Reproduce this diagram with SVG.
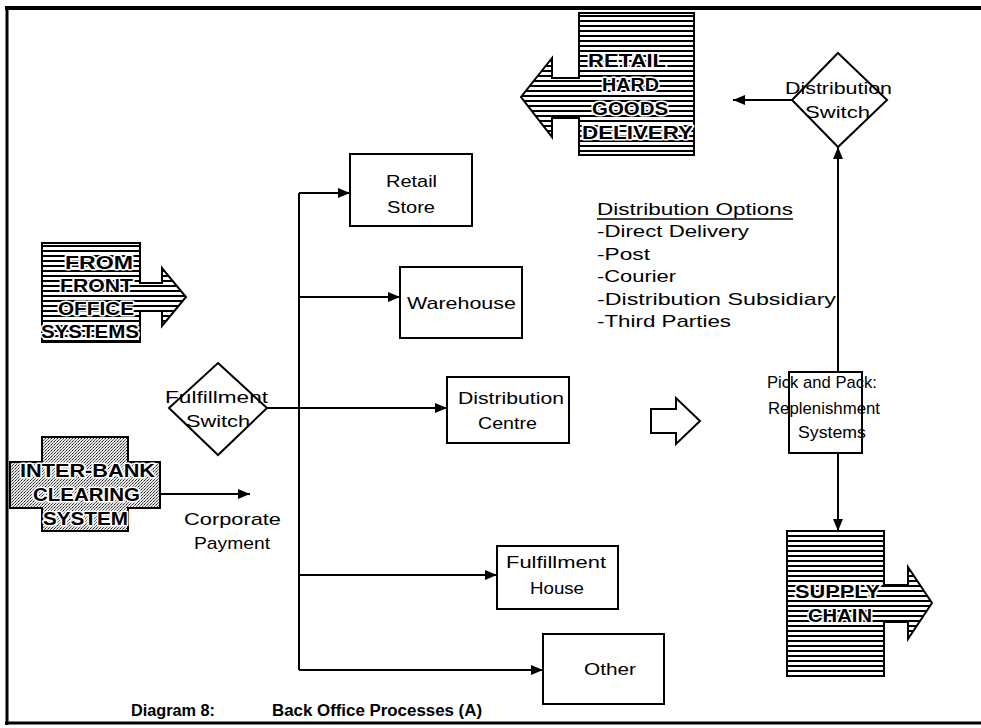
<svg xmlns="http://www.w3.org/2000/svg" width="981" height="728" viewBox="0 0 981 728">
<defs>
<pattern id="stripes" width="6" height="5" patternUnits="userSpaceOnUse">
<rect width="6" height="5" fill="#fff"/>
<rect y="0" width="6" height="2" fill="#000"/>
</pattern>
<pattern id="dots" width="3" height="3" patternUnits="userSpaceOnUse">
<rect width="3" height="3" fill="#e6e6e6"/>
<rect x="0" y="0" width="1" height="1" fill="#222"/>
<rect x="2" y="1" width="1" height="1" fill="#777"/>
<rect x="1" y="2" width="1" height="1" fill="#555"/>
</pattern>
<marker id="ah" markerWidth="13" markerHeight="11" refX="12" refY="5" orient="auto" markerUnits="userSpaceOnUse">
<path d="M0,0 L12,5 L0,10 Z" fill="#000"/>
</marker>
</defs>
<style>
.t{font-family:"Liberation Sans",Arial,sans-serif;font-size:17px;fill:#000}
.b{font-family:"Liberation Sans",Arial,sans-serif;font-weight:bold;font-size:18px;fill:#000;stroke:#fff;stroke-width:3;paint-order:stroke;stroke-linejoin:round}
.ti{font-family:"Liberation Sans",Arial,sans-serif;font-weight:bold;font-size:16px;fill:#000}
.box{fill:#fff;stroke:#000;stroke-width:2}
.sh{stroke:#000;stroke-width:2}
.c{fill:none;stroke:#000;stroke-width:2}
</style>
<rect width="981" height="728" fill="#fff"/>
<g id="frame" fill="none" stroke="#000">
<line x1="5" y1="8" x2="981" y2="8" stroke-width="4"/>
<line x1="7" y1="6" x2="7" y2="725" stroke-width="3"/>
<line x1="5" y1="723" x2="981" y2="723" stroke-width="3"/>
</g>
<g id="connectors">
<line class="c" x1="299" y1="193" x2="299" y2="670"/>
<line class="c" x1="299" y1="193" x2="350" y2="193" marker-end="url(#ah)"/>
<line class="c" x1="299" y1="297" x2="400" y2="297" marker-end="url(#ah)"/>
<line class="c" x1="267" y1="408" x2="447" y2="408" marker-end="url(#ah)"/>
<line class="c" x1="299" y1="575" x2="497" y2="575" marker-end="url(#ah)"/>
<line class="c" x1="299" y1="670" x2="543" y2="670" marker-end="url(#ah)"/>
<line class="c" x1="160" y1="494" x2="250" y2="494" marker-end="url(#ah)"/>
<line class="c" x1="792" y1="100" x2="733" y2="100" marker-end="url(#ah)"/>
<line class="c" x1="838" y1="372" x2="838" y2="147" marker-end="url(#ah)"/>
<line class="c" x1="838" y1="453" x2="838" y2="531" marker-end="url(#ah)"/>
</g>
<g id="retail-hard-goods">
<path class="sh" fill="url(#stripes)" d="M579,13 H694 V155 H579 V118 H552 V137 L521,97 L552,58 V78 H579 Z"/>
<text class="b" x="588" y="67" textLength="78" lengthAdjust="spacingAndGlyphs">RETAIL</text>
<text class="b" x="602" y="91" textLength="57" lengthAdjust="spacingAndGlyphs">HARD</text>
<text class="b" x="592" y="115" textLength="76" lengthAdjust="spacingAndGlyphs">GOODS</text>
<text class="b" x="582" y="139" textLength="111" lengthAdjust="spacingAndGlyphs">DELIVERY</text>
</g>
<g id="distribution-switch">
<path class="box" d="M838,53 L887,100 L838,147 L792,100 Z"/>
<text class="t" x="785" y="94" textLength="107" lengthAdjust="spacingAndGlyphs">Distribution</text>
<text class="t" x="805" y="118" textLength="65" lengthAdjust="spacingAndGlyphs">Switch</text>
</g>
<g id="front-office">
<path class="sh" fill="url(#stripes)" d="M42,243 H140 V283 H162 V268 L186,297 L162,326 V311 H140 V342 H42 Z"/>
<text class="b" x="65" y="269" textLength="68" lengthAdjust="spacingAndGlyphs">FROM</text>
<text class="b" x="60" y="292" textLength="73" lengthAdjust="spacingAndGlyphs">FRONT</text>
<text class="b" x="58" y="315" textLength="76" lengthAdjust="spacingAndGlyphs">OFFICE</text>
<text class="b" x="41" y="338" textLength="98" lengthAdjust="spacingAndGlyphs">SYSTEMS</text>
</g>
<g id="inter-bank">
<path class="sh" fill="url(#dots)" d="M42,437 H128 V462 H160 V508 H128 V531 H42 V508 H10 V462 H42 Z"/>
<text class="b" x="20" y="477" textLength="135" lengthAdjust="spacingAndGlyphs">INTER-BANK</text>
<text class="b" x="33" y="501" textLength="107" lengthAdjust="spacingAndGlyphs">CLEARING</text>
<text class="b" x="43" y="525" textLength="85" lengthAdjust="spacingAndGlyphs">SYSTEM</text>
</g>
<g id="corporate-payment">
<text class="t" x="184" y="525" textLength="97" lengthAdjust="spacingAndGlyphs">Corporate</text>
<text class="t" x="194" y="549" textLength="76" lengthAdjust="spacingAndGlyphs">Payment</text>
</g>
<g id="fulfillment-switch">
<path class="box" d="M218,363 L267,408 L218,455 L169,408 Z"/>
<text class="t" x="165" y="403" textLength="103" lengthAdjust="spacingAndGlyphs">Fulfillment</text>
<text class="t" x="186" y="427" textLength="64" lengthAdjust="spacingAndGlyphs">Switch</text>
</g>
<g id="retail-store">
<rect class="box" x="350" y="154" width="122" height="72"/>
<text class="t" x="386" y="187" textLength="51" lengthAdjust="spacingAndGlyphs">Retail</text>
<text class="t" x="387" y="213" textLength="48" lengthAdjust="spacingAndGlyphs">Store</text>
</g>
<g id="warehouse">
<rect class="box" x="400" y="267" width="122" height="71"/>
<text class="t" x="407" y="309" textLength="109" lengthAdjust="spacingAndGlyphs">Warehouse</text>
</g>
<g id="distribution-centre">
<rect class="box" x="447" y="377" width="122" height="66"/>
<text class="t" x="458" y="404" textLength="106" lengthAdjust="spacingAndGlyphs">Distribution</text>
<text class="t" x="478" y="429" textLength="59" lengthAdjust="spacingAndGlyphs">Centre</text>
</g>
<g id="fulfillment-house">
<rect class="box" x="497" y="546" width="121" height="63"/>
<text class="t" x="506" y="568" textLength="100" lengthAdjust="spacingAndGlyphs">Fulfillment</text>
<text class="t" x="530" y="594" textLength="54" lengthAdjust="spacingAndGlyphs">House</text>
</g>
<g id="other">
<rect class="box" x="543" y="634" width="121" height="70"/>
<text class="t" x="584" y="675" textLength="52" lengthAdjust="spacingAndGlyphs">Other</text>
</g>
<g id="distribution-options">
<text class="t" x="597" y="215" textLength="196" lengthAdjust="spacingAndGlyphs">Distribution Options</text>
<line x1="597" y1="219" x2="793" y2="219" stroke="#000" stroke-width="1.5"/>
<text class="t" x="597" y="237" textLength="152" lengthAdjust="spacingAndGlyphs">-Direct Delivery</text>
<text class="t" x="597" y="260" textLength="53" lengthAdjust="spacingAndGlyphs">-Post</text>
<text class="t" x="597" y="282" textLength="79" lengthAdjust="spacingAndGlyphs">-Courier</text>
<text class="t" x="597" y="305" textLength="239" lengthAdjust="spacingAndGlyphs">-Distribution Subsidiary</text>
<text class="t" x="597" y="327" textLength="134" lengthAdjust="spacingAndGlyphs">-Third Parties</text>
</g>
<g id="hollow-arrow">
<path fill="#fff" stroke="#000" stroke-width="2" d="M651,409 H676 V398 L700,421 L676,444 V433 H651 Z"/>
</g>
<g id="pick-and-pack">
<rect class="box" x="789" y="372" width="73" height="81"/>
<text class="t" x="767" y="388" textLength="110" lengthAdjust="spacingAndGlyphs">Pick and Pack:</text>
<text class="t" x="768" y="414" textLength="112" lengthAdjust="spacingAndGlyphs">Replenishment</text>
<text class="t" x="798" y="438" textLength="68" lengthAdjust="spacingAndGlyphs">Systems</text>
</g>
<g id="supply-chain">
<path class="sh" fill="url(#stripes)" d="M787,531 H884 V585 H908 V567 L932,603 L908,639 V622 H884 V676 H787 Z"/>
<text class="b" x="795" y="598" textLength="85" lengthAdjust="spacingAndGlyphs">SUPPLY</text>
<text class="b" x="808" y="622" textLength="64" lengthAdjust="spacingAndGlyphs">CHAIN</text>
</g>
<g id="title">
<text class="ti" x="131" y="716" textLength="84" lengthAdjust="spacingAndGlyphs">Diagram 8:</text>
<text class="ti" x="272" y="716" textLength="210" lengthAdjust="spacingAndGlyphs">Back Office Processes (A)</text>
</g>
</svg>
